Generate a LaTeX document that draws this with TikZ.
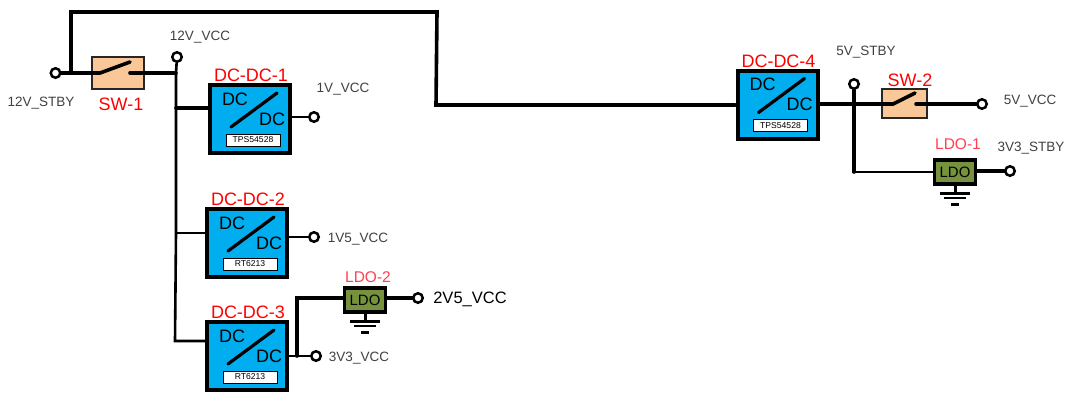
\documentclass[tikz,border=0pt]{standalone}
\usepackage{fontspec}
\setmainfont{Liberation Sans}
\definecolor{dcblue}{HTML}{00AEEF}
\definecolor{swfill}{HTML}{FAC898}
\definecolor{ldofill}{HTML}{76923C}
\definecolor{railgray}{HTML}{404040}
\definecolor{ldored}{HTML}{FF4050}

\begin{document}
\begin{tikzpicture}[x=1pt,y=-1pt,
			    dcbox/.style={draw,fill=dcblue,line width=4pt,inner sep=0mm,minimum width=80pt,minimum height=68pt},
			    swbox/.style={draw=black!85,fill=swfill,line width=2pt,inner sep=0mm},
			    ldobox/.style={draw,fill=ldofill,line width=3.5pt,inner sep=0mm,minimum width=41pt,minimum height=24pt,font=\fontsize{15}{15}\selectfont},
			    partbox/.style={draw,fill=white,line width=0.8pt,inner sep=0mm,minimum width=54pt,minimum height=12pt,font=\fontsize{8.6}{8.6}\selectfont},
			    term/.style={circle,draw,fill=white,line width=2.5pt,inner sep=0mm,minimum size=9.5pt},
			    rail/.style={font=\fontsize{13.5}{13.5}\selectfont,text=railgray,inner sep=0mm},
			    tag/.style={font=\fontsize{18}{18}\selectfont,text=red,inner sep=0mm},
			    ldotag/.style={font=\fontsize{15.5}{15.5}\selectfont,text=ldored,inner sep=0mm},
			    dctext/.style={font=\fontsize{18}{18}\selectfont,inner sep=0mm},
			    edge/.style={line width=3.6pt,line cap=round},
			    thinedge/.style={line width=2.6pt,line cap=round},
			]
	    \useasboundingbox (0,0) rectangle (1070,392);

	    %converters
	    \foreach \name/\x/\y/\part/\lab in {dca/250/119/TPS54528/DC-DC-1,dcb/247/243/RT6213/DC-DC-2,dcc/247/356/RT6213/DC-DC-3,dcd/777.5/104.5/TPS54528/DC-DC-4}{
	        \node[dcbox] (\name) at (\x,\y) {};
	        \node[dctext] (\name in) at ([shift={(-15,-20)}]\name.center) {DC};
	        \node[dctext] (\name out) at ([shift={(22,0)}]\name.center) {DC};
	        \draw[line width=3.2pt,line cap=round] ([shift={(-19,8)}]\name.center) -- ([shift={(27,-26)}]\name.center);
	        \node[partbox] (\name part) at ([shift={(3,21)}]\name.center) {\part};
	        \node[tag] (\name tag) at ([shift={(1,-43.5)}]\name.center) {\lab};
	    }

	    %switches
	    \node[swbox,minimum width=52pt,minimum height=32pt] (swa) at (118,72.5) {};
	    \node[swbox,minimum width=45pt,minimum height=29pt] (swb) at (904,103) {};
	    \node[tag] (swa tag) at (121,104) {SW-1};
	    \node[tag] (swb tag) at (910,80) {SW-2};

	    %regulators
	    \node[ldobox] (ldoa) at (955,172) {LDO};
	    \node[ldobox] (ldob) at (365,300) {LDO};
	    \node[ldotag] (ldoa tag) at (958,144) {LDO-1};
	    \node[ldotag] (ldob tag) at (368,277) {LDO-2};

	    %terminals
	    \node[term] (stby) at (55.5,73) {};
	    \node[term] (vcc) at (177,57) {};
	    \node[term] (va) at (314,117) {};
	    \node[term] (vb) at (314,237) {};
	    \node[term] (vc) at (316,356) {};
	    \node[term] (vd) at (418,298) {};
	    \node[term] (ve) at (854,84) {};
	    \node[term] (vf) at (982,104) {};
	    \node[term] (vg) at (1010,171) {};

	    %rail names
	    \node[rail] (stby name) at (41,103) {12V\_STBY};
	    \node[rail] (vcc name) at (200,37) {12V\_VCC};
	    \node[rail] (va name) at (343,89) {1V\_VCC};
	    \node[rail] (vb name) at (358,239.5) {1V5\_VCC};
	    \node[rail] (vc name) at (359,358.5) {3V3\_VCC};
	    \node[font=\fontsize{16.5}{16.5}\selectfont,inner sep=0mm] (vd name) at (470,299) {2V5\_VCC};
	    \node[rail] (ve name) at (866,52) {5V\_STBY};
	    \node[rail] (vf name) at (1030,101) {5V\_VCC};
	    \node[rail] (vg name) at (1031,148) {3V3\_STBY};

	    %junctions
	    \coordinate (ta) at (71,73);
	    \coordinate (tb) at (71,12);
	    \coordinate (tc) at (437,12);
	    \coordinate (td) at (436,105);
	    \coordinate (ja) at (176,73);
	    \coordinate (jb) at (176,108);
	    \coordinate (jc) at (176,233);
	    \coordinate (jd) at (175,341);
	    \coordinate (je) at (297,356);
	    \coordinate (jf) at (297,298);
	    \coordinate (jg) at (854,104);
	    \coordinate (jh) at (854,172);

	    %12V side
	    \draw [edge] (stby) -- (ta);
	    \draw [edge] (ta) -- (tb) -- (tc) -- (td) -- (td -| dcd.west);
	    \draw [edge] (ta) -- (100,73) -- (130,62);
	    \draw [edge] (130,73) -- (ja);
	    \draw [thinedge] (vcc) -- (ja) -- (jb) -- (jc) -- (jd) -- (jd -| dcc.west);
	    \draw [edge] (jb) -- (jb -| dca.west);
	    \draw [thinedge] (jc) -- (jc -| dcb.west);

	    %outputs
	    \draw [thinedge] (dca.east |- va) -- (va);
	    \draw [thinedge] (dcb.east |- vb) -- (vb);
	    \draw [thinedge] (dcc.east |- vc) -- (vc);
	    \draw [edge] (je) -- (jf) -- (ldob.west |- jf);
	    \draw [edge] (ldob.east |- vd) -- (vd);

	    %5V side
	    \draw [edge] (dcd.east |- jg) -- (jg) -- (893,104) -- (915,93);
	    \draw [edge] (916,104) -- (vf);
	    \draw [edge] (ve) -- (jh);
	    \draw [thinedge] (jh) -- (ldoa.west |- jh);
	    \draw [edge] (ldoa.east |- vg) -- (vg);

	    %grounds
	    \foreach \g/\gx/\gy in {ldoa/955/185,ldob/365/313}{
	        \draw [line width=3pt] (\g.south) -- (\gx,\gy+8);
	        \draw [line width=3pt] (\gx-15,\gy+8) -- (\gx+15,\gy+8);
	        \draw [line width=2.2pt] (\gx-11,\gy+13) -- (\gx+11,\gy+13);
	        \draw [line width=3pt] (\gx-4,\gy+19) -- (\gx+4,\gy+19);
	    }
	\end{tikzpicture}
\end{document}
